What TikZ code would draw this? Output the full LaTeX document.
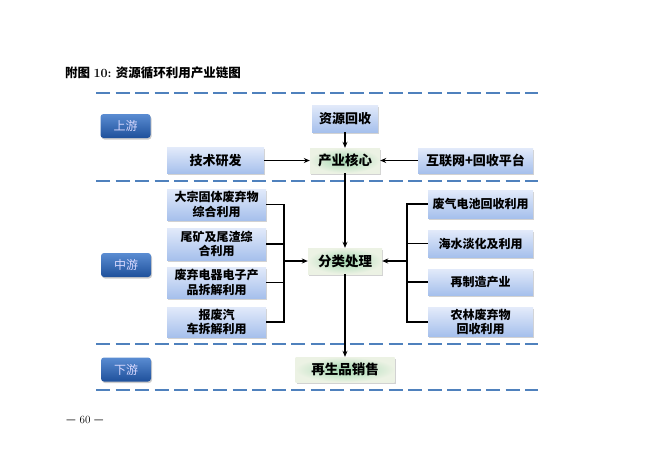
\documentclass[tikz,border=0pt]{standalone}
\usepackage{fontspec}
\newfontfamily\cjk{Noto Sans CJK SC}
\usetikzlibrary{shadows,arrows.meta}
\definecolor{dashblue}{RGB}{79,129,189}
\definecolor{lbtop}{RGB}{226,234,250}
\definecolor{lbbot}{RGB}{166,192,236}
\definecolor{btop}{RGB}{90,140,210}
\definecolor{bbot}{RGB}{30,80,155}
\definecolor{gin}{RGB}{160,215,175}
\definecolor{gout}{RGB}{236,242,228}
\tikzset{
  bluebox/.style={draw=none, top color=lbtop, bottom color=lbbot,
    drop shadow={shadow xshift=1pt, shadow yshift=-1.5pt, fill=black!35},
    font=\cjk\bfseries\fontsize{13}{15}\selectfont, align=center, inner sep=1pt},
  twoline/.style={font=\cjk\bfseries\fontsize{12}{14.5}\selectfont},
  greenbox/.style={draw=none, inner color=gin, outer color=gout,
    drop shadow={shadow xshift=1pt, shadow yshift=-1.5pt, fill=black!35},
    font=\cjk\bfseries\fontsize{13.5}{15}\selectfont, align=center, inner sep=1pt},
  button/.style={draw=none, rounded corners=3pt, top color=btop, bottom color=bbot,
    drop shadow={shadow xshift=1pt, shadow yshift=-1.5pt, fill=black!40},
    text=white!85!blue, font=\cjk\fontsize{12}{14}\selectfont,
    minimum width=50pt, minimum height=24pt, inner sep=1pt},
  sep/.style={draw=dashblue, line width=1.6pt, dash pattern=on 14pt off 5.5pt},
  conn/.style={draw=black, line width=1.1pt},
  arr/.style={conn, -{Stealth[length=6pt,width=5pt]}}
}
\begin{document}
\begin{tikzpicture}[x=1pt,y=-1pt]
\useasboundingbox (0,0) rectangle (650,459);
% title
\node[anchor=west, inner sep=0] (title) at (65,73)
  {{\cjk\bfseries\fontsize{12.5}{14}\selectfont 附图} {\bfseries\fontsize{12.5}{14}\selectfont 10:} {\cjk\bfseries\fontsize{12.5}{14}\selectfont 资源循环利用产业链图}};
% separators
\coordinate (s1a) at (96,93); \coordinate (s1b) at (538,93);
\coordinate (s2a) at (96,181); \coordinate (s2b) at (538,181);
\coordinate (s3a) at (96,344); \coordinate (s3b) at (538,344);
\coordinate (s4a) at (96,390); \coordinate (s4b) at (538,390);
\draw[sep] (s1a) -- (s1b);
\draw[sep] (s2a) -- (s2b);
\draw[sep] (s3a) -- (s3b);
\draw[sep] (s4a) -- (s4b);
% buttons
\node[button] (up) at (125.5,126) {上游};
\node[button] (mid) at (126,265) {中游};
\node[button] (down) at (126,369.5) {下游};
% upstream
\node[bluebox, minimum width=66pt, minimum height=27pt] (zy) at (345,118.5) {资源回收};
\node[greenbox, minimum width=70pt, minimum height=25pt] (hx) at (345,160.5) {产业核心};
\node[bluebox, minimum width=97pt, minimum height=26pt] (js) at (215.5,160.5) {技术研发};
\node[bluebox, minimum width=115pt, minimum height=25pt] (hl) at (475.5,160.5) {互联网+回收平台};
% midstream left
\node[bluebox, twoline, minimum width=99pt, minimum height=31pt] (l1) at (216.5,204.5) {大宗固体废弃物\\综合利用};
\node[bluebox, twoline, minimum width=99pt, minimum height=32pt] (l2) at (216.5,244) {尾矿及尾渣综\\合利用};
\node[bluebox, twoline, minimum width=99pt, minimum height=31pt] (l3) at (216.5,282.5) {废弃电器电子产\\品拆解利用};
\node[bluebox, twoline, minimum width=99pt, minimum height=30pt] (l4) at (216.5,322) {报废汽\\车拆解利用};
% processing
\node[greenbox, minimum width=74pt, minimum height=26pt] (fl) at (345,261) {分类处理};
% midstream right
\node[bluebox, twoline, minimum width=105pt, minimum height=28pt] (r1) at (480.5,204) {废气电池回收利用};
\node[bluebox, twoline, minimum width=105pt, minimum height=27pt] (r2) at (480.5,243.5) {海水淡化及利用};
\node[bluebox, twoline, minimum width=105pt, minimum height=26pt] (r3) at (480.5,282) {再制造产业};
\node[bluebox, twoline, minimum width=105pt, minimum height=28pt] (r4) at (480.5,322) {农林废弃物\\回收利用};
% downstream
\node[greenbox, minimum width=99pt, minimum height=25pt] (zs) at (345,369.5) {再生品销售};
% page number
\node[anchor=west, inner sep=0, font=\fontsize{11}{13}\selectfont] (pg) at (66,420) {{\cjk —} 60 {\cjk —}};
% connectors
\coordinate (lbx) at (284,0);
\coordinate (rbx) at (407,0);
\draw[arr] (zy.south) -- (hx.north);
\draw[arr] (js.east) -- (hx.west);
\draw[arr] (hl.west) -- (hx.east);
\draw[arr] (hx.south) -- (fl.north);
\draw[arr] (fl.south) -- (zs.north);
\draw[conn] (l1.east) -- (l1.east -| lbx) -- (l4.east -| lbx) -- (l4.east);
\draw[conn] (l2.east) -- (l2.east -| lbx);
\draw[conn] (l3.east) -- (l3.east -| lbx);
\draw[arr] (lbx |- fl.west) -- (fl.west);
\draw[conn] (r1.west) -- (r1.west -| rbx) -- (r4.west -| rbx) -- (r4.west);
\draw[conn] (r2.west) -- (r2.west -| rbx);
\draw[conn] (r3.west) -- (r3.west -| rbx);
\draw[arr] (rbx |- fl.east) -- (fl.east);
\end{tikzpicture}
\end{document}
